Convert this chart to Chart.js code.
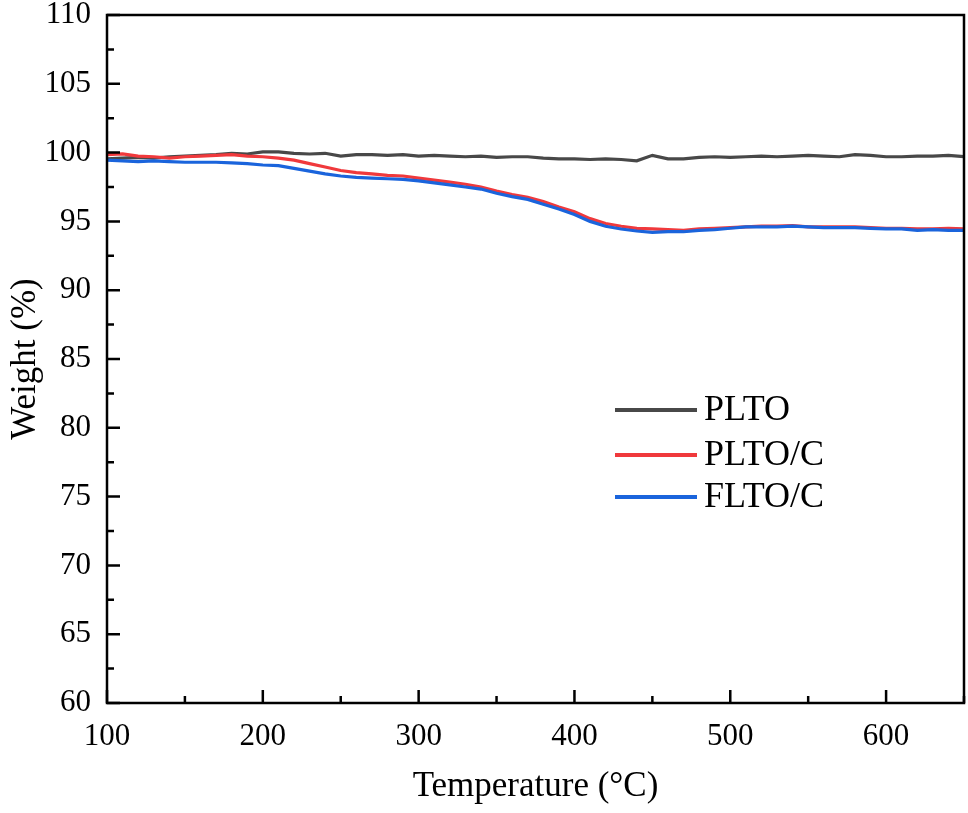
<!DOCTYPE html>
<html>
<head>
<meta charset="utf-8">
<script src="https://cdn.jsdelivr.net/npm/chart.js@4/dist/chart.umd.min.js"></script>
<style>
html,body{margin:0;padding:0;background:#fff;}
#wrap{width:968px;height:813px;position:relative;}
</style>
</head>
<body>
<div id="wrap"><canvas id="c" width="968" height="813"></canvas></div>
<script>
const temperatures = [100,110,120,130,140,150,160,170,180,190,200,210,220,230,240,250,260,270,280,290,300,310,320,330,340,350,360,370,380,390,400,410,420,430,440,450,460,470,480,490,500,510,520,530,540,550,560,570,580,590,600,610,620,630,640,650];
const pltoWeight = [99.55,99.6,99.65,99.6,99.7,99.75,99.8,99.85,99.95,99.9,100.05,100.05,99.95,99.9,99.95,99.75,99.85,99.85,99.8,99.85,99.75,99.8,99.75,99.7,99.75,99.65,99.7,99.7,99.6,99.55,99.55,99.5,99.55,99.5,99.4,99.8,99.55,99.55,99.65,99.7,99.65,99.7,99.75,99.7,99.75,99.8,99.75,99.7,99.85,99.8,99.7,99.7,99.75,99.75,99.8,99.7];
const pltoCWeight = [99.85,99.9,99.75,99.7,99.6,99.7,99.75,99.8,99.85,99.75,99.7,99.6,99.45,99.2,98.95,98.7,98.55,98.45,98.35,98.3,98.15,98.0,97.85,97.7,97.5,97.2,96.95,96.75,96.45,96.05,95.7,95.2,94.85,94.65,94.5,94.45,94.4,94.35,94.45,94.5,94.55,94.6,94.65,94.65,94.7,94.6,94.6,94.6,94.6,94.55,94.5,94.5,94.45,94.45,94.5,94.45];
const fltoCWeight = [99.45,99.4,99.35,99.4,99.35,99.3,99.3,99.3,99.25,99.2,99.1,99.05,98.85,98.65,98.45,98.3,98.2,98.15,98.1,98.05,97.95,97.8,97.65,97.5,97.35,97.05,96.8,96.6,96.25,95.9,95.5,95.0,94.65,94.45,94.3,94.2,94.25,94.25,94.35,94.4,94.5,94.6,94.6,94.6,94.65,94.6,94.55,94.55,94.55,94.5,94.45,94.45,94.35,94.4,94.35,94.35];
const seriesLabels = ['PLTO','PLTO/C','FLTO/C'];
const seriesColors = ['#484848','#f0393c','#1a64dc'];
const xTickValues = [100,200,300,400,500,600];

const FONT = '"Liberation Serif","Times New Roman",serif';

function pts(arr){ return temperatures.map((t,i)=>({x:t,y:arr[i]})); }

const framePlugin = {
  id:'frameTicks',
  afterDraw(chart){
    const ctx = chart.ctx, a = chart.chartArea;
    const xs = chart.scales.x, ys = chart.scales.y;
    ctx.save();
    ctx.strokeStyle = '#000';
    ctx.lineWidth = 2.5;
    ctx.beginPath();
    ctx.rect(a.left, a.top, a.right - a.left, a.bottom - a.top);
    ctx.stroke();
    ctx.beginPath();
    for (let v = 100; v <= 650; v += 50) {
      const px = xs.getPixelForValue(v);
      const len = (v % 100 === 0) ? 13 : 7;
      ctx.moveTo(px, a.bottom); ctx.lineTo(px, a.bottom - len);
    }
    for (let v = 60; v <= 110; v += 2.5) {
      const py = ys.getPixelForValue(v);
      const len = (v % 5 === 0) ? 13 : 7;
      ctx.moveTo(a.left, py); ctx.lineTo(a.left + len, py);
    }
    ctx.stroke();
    // legend
    const lx0 = 615, lx1 = 697, tx = 704;
    const rows = [410, 455, 497];
    ctx.font = '36px ' + FONT;
    ctx.textBaseline = 'middle';
    ctx.textAlign = 'left';
    chart.data.datasets.forEach((ds,i)=>{
      ctx.strokeStyle = ds.borderColor;
      ctx.lineWidth = 4;
      ctx.beginPath();
      ctx.moveTo(lx0, rows[i]); ctx.lineTo(lx1, rows[i]);
      ctx.stroke();
      ctx.fillStyle = '#000';
      ctx.fillText(ds.label, tx, rows[i] + 1);
    });
    ctx.restore();
  }
};

new Chart(document.getElementById('c'), {
  type:'line',
  data:{
    datasets:[
      {label:seriesLabels[0], data:pts(pltoWeight), borderColor:seriesColors[0], borderWidth:3.2, pointRadius:0, order:2, tension:0},
      {label:seriesLabels[1], data:pts(pltoCWeight), borderColor:seriesColors[1], borderWidth:3.2, pointRadius:0, order:1, tension:0},
      {label:seriesLabels[2], data:pts(fltoCWeight), borderColor:seriesColors[2], borderWidth:3.2, pointRadius:0, order:0, tension:0}
    ]
  },
  options:{
    responsive:false,
    animation:false,
    layout:{padding:{top:15,right:4,left:0,bottom:0}},
    plugins:{legend:{display:false}, tooltip:{enabled:false}},
    scales:{
      x:{
        type:'linear', min:100, max:650,
        grid:{display:false, drawTicks:false},
        border:{display:false},
        afterBuildTicks(s){ s.ticks = xTickValues.map(v=>({value:v})); },
        afterFit(s){ s.height = 110; s.paddingLeft = 0; s.paddingRight = 0; },
        ticks:{font:{family:FONT,size:31}, color:'#000', padding:15, maxRotation:0, autoSkip:false},
        title:{display:true, text:'Temperature (°C)', font:{family:FONT,size:35}, color:'#000', padding:{top:0,bottom:5}}
      },
      y:{
        min:60, max:110,
        grid:{display:false, drawTicks:false},
        border:{display:false},
        afterFit(s){ s.width = 107; s.paddingTop = 0; s.paddingBottom = 0; },
        ticks:{stepSize:5, font:{family:FONT,size:31}, color:'#000', padding:16},
        title:{display:true, text:'Weight (%)', font:{family:FONT,size:35}, color:'#000', padding:{top:5,bottom:0}}
      }
    }
  },
  plugins:[framePlugin]
});
</script>
</body>
</html>
